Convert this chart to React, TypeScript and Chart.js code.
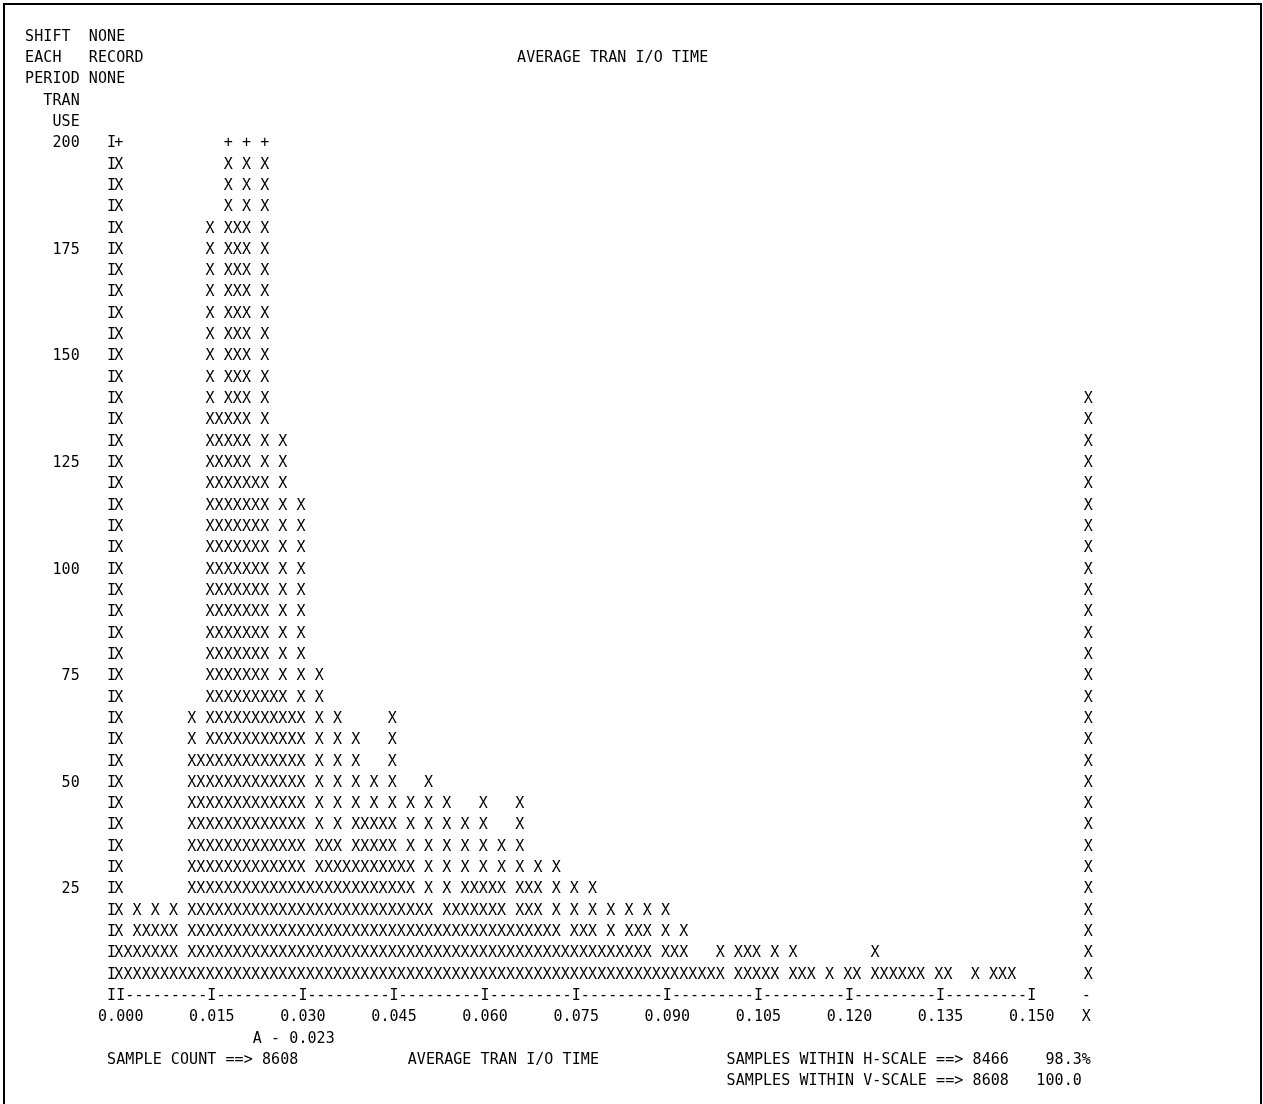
import React, { useEffect, useRef } from "react";
import { Chart, registerables } from "chart.js";

Chart.register(...registerables);

// ---- data ----
const BIN_STEP = 0.0015; // width of one histogram column (time units)
// counts per column, columns at 0.000, 0.0015, ... 0.150
const COUNTS: number[] = [
  4236, 10, 20, 15, 20, 15, 20, 5, 65, 55,
  180, 135, 520, 180, 610, 120, 450, 70, 130, 65,
  115, 25, 75, 35, 65, 30, 60, 40, 50, 40,
  65, 30, 45, 20, 50, 15, 45, 20, 40, 25,
  45, 25, 35, 15, 45, 25, 30, 15, 30, 10,
  25, 15, 25, 10, 20, 10, 20, 15, 20, 5,
  20, 10, 15, 5, 5, 5, 10, 0, 10, 10,
  10, 5, 10, 0, 10, 5, 5, 0, 5, 0,
  5, 5, 0, 10, 5, 5, 5, 5, 5, 0,
  5, 5, 0, 0, 5, 0, 5, 5, 5, 0,
  0,
];
const OVERFLOW_COUNT = 142; // samples beyond the horizontal scale
const OVERFLOW_COL_OFFSET = 106; // column (from 0.000) where overflow is printed
const X_TICK_VALUES = [0, 0.015, 0.03, 0.045, 0.06, 0.075, 0.09, 0.105, 0.12, 0.135, 0.15];
const X_TICK_LABELS = ["0.000", "0.015", "0.030", "0.045", "0.060", "0.075", "0.090", "0.105", "0.120", "0.135", "0.150"];
const Y_TICK_VALUES = [200, 175, 150, 125, 100, 75, 50, 25];
const Y_TICK_LABELS = ["200", "175", "150", "125", "100", "75", "50", "25"];
const ROW_STEP = 5;
const Y_TOP = 200;
const AVERAGE = 0.023;
const SAMPLE_COUNT = 8608;
const H_WITHIN = 8466;
const V_WITHIN = 8608;
const TITLE = "AVERAGE TRAN I/O TIME";
const HEADER_LINES = ["SHIFT  NONE", "EACH   RECORD", "PERIOD NONE", "  TRAN", "   USE"];

// ---- styling ----
const FONT = '15px "DejaVu Sans Mono", "Liberation Mono", monospace';
const INK = "#000000";
const BASE_OFF = 5.45;

const asciiPlugin = {
  id: "asciiPlot",
  afterDatasetsDraw(chart: any) {
    const ctx: CanvasRenderingContext2D = chart.ctx;
    const xs = chart.scales.x;
    const ys = chart.scales.y;
    const colPx = (c: number) => xs.getPixelForValue((c - 1) * BIN_STEP);
    const rowPx = (v: number) => ys.getPixelForValue(v) + BASE_OFF;
    const drawStr = (s: string, col: number, v: number) => {
      const y = rowPx(v);
      for (let i = 0; i < s.length; i++) {
        const ch = s[i];
        if (ch === " ") continue;
        ctx.fillText(ch, colPx(col + i), y);
      }
    };

    ctx.save();
    ctx.font = FONT;
    ctx.fillStyle = INK;
    ctx.textAlign = "center";
    ctx.textBaseline = "alphabetic";

    // histogram columns of X
    chart.data.datasets.forEach((ds: any, di: number) => {
      const meta = chart.getDatasetMeta(di);
      meta.data.forEach((el: any, i: number) => {
        const val = ds.data[i].y;
        for (let v = ROW_STEP; v <= Y_TOP; v += ROW_STEP) {
          if (val < v) break;
          const ch = v === Y_TOP && val > Y_TOP ? "+" : "X";
          ctx.fillText(ch, el.x, rowPx(v));
        }
      });
    });

    // vertical axis
    for (let v = ROW_STEP; v <= Y_TOP; v += ROW_STEP) drawStr("I", 0, v);
    Y_TICK_VALUES.forEach((t, i) => {
      const lab = Y_TICK_LABELS[i];
      drawStr(lab, -4 - lab.length + 1, t);
    });

    // horizontal axis line
    const lastTickCol = Math.round(X_TICK_VALUES[X_TICK_VALUES.length - 1] / BIN_STEP) + 1;
    const tickCols = X_TICK_VALUES.map((t) => Math.round(t / BIN_STEP) + 1);
    for (let c = 0; c <= lastTickCol; c++) {
      const ch = c === 0 || tickCols.includes(c) ? "I" : "-";
      drawStr(ch, c, 0);
    }
    const ovCol = OVERFLOW_COL_OFFSET + 1;
    drawStr("-", ovCol, 0);

    // tick labels
    X_TICK_VALUES.forEach((t, i) => {
      const c = Math.round(t / BIN_STEP) + 1;
      const lab = X_TICK_LABELS[i];
      drawStr(lab, c - Math.floor(lab.length / 2), -ROW_STEP);
    });
    drawStr("X", ovCol, -ROW_STEP);

    // average marker
    const avgCol = Math.round(AVERAGE / BIN_STEP) + 1;
    drawStr("A - " + AVERAGE.toFixed(3), avgCol, -2 * ROW_STEP);

    // footer
    const pctH = (Math.floor((H_WITHIN / SAMPLE_COUNT) * 1000) / 10).toFixed(1);
    const pctV = (Math.floor((V_WITHIN / SAMPLE_COUNT) * 1000) / 10).toFixed(1);
    drawStr("SAMPLE COUNT ==> " + SAMPLE_COUNT, 0, -3 * ROW_STEP);
    drawStr(TITLE, 33, -3 * ROW_STEP);
    drawStr("SAMPLES WITHIN H-SCALE ==> " + H_WITHIN + "    " + pctH + "%", 68, -3 * ROW_STEP);
    drawStr("SAMPLES WITHIN V-SCALE ==> " + V_WITHIN + "   " + pctV, 68, -4 * ROW_STEP);

    // header
    HEADER_LINES.forEach((line, i) => {
      drawStr(line, -9, Y_TOP + (HEADER_LINES.length - i) * ROW_STEP);
    });
    drawStr(TITLE, 45, Y_TOP + 4 * ROW_STEP);

    // page frame
    ctx.strokeStyle = INK;
    ctx.lineWidth = 2;
    ctx.strokeRect(4, 4, chart.width - 6, chart.height + 20);
    ctx.restore();
  },
};

export default function App() {
  const ref = useRef<HTMLCanvasElement | null>(null);
  useEffect(() => {
    if (!ref.current) return;
    const histData = COUNTS.map((v, i) => ({ x: i * BIN_STEP, y: v }));
    const overflowData = [{ x: OVERFLOW_COL_OFFSET * BIN_STEP, y: OVERFLOW_COUNT }];
    const chart = new Chart(ref.current, {
      type: "bar",
      data: {
        datasets: [
          { label: "TRAN USE", data: histData as any, backgroundColor: "rgba(0,0,0,0)", borderWidth: 0 },
          { label: "OVER H-SCALE", data: overflowData as any, backgroundColor: "rgba(0,0,0,0)", borderWidth: 0 },
        ],
      },
      options: {
        animation: false,
        responsive: false,
        maintainAspectRatio: false,
        layout: { padding: 0 },
        plugins: { legend: { display: false }, tooltip: { enabled: false }, title: { display: false } },
        scales: {
          x: { type: "linear", display: false, min: -0.019875, max: 0.188083, offset: false },
          y: { type: "linear", display: false, min: -25.657, max: 233.255 },
        },
      },
      plugins: [asciiPlugin],
    });
    return () => chart.destroy();
  }, []);
  return (
    <div style={{ position: "absolute", left: 0, top: 0, width: 1263, height: 1104, background: "#fff" }}>
      <canvas ref={ref} width={1263} height={1104} style={{ width: 1263, height: 1104, display: "block" }} />
    </div>
  );
}
